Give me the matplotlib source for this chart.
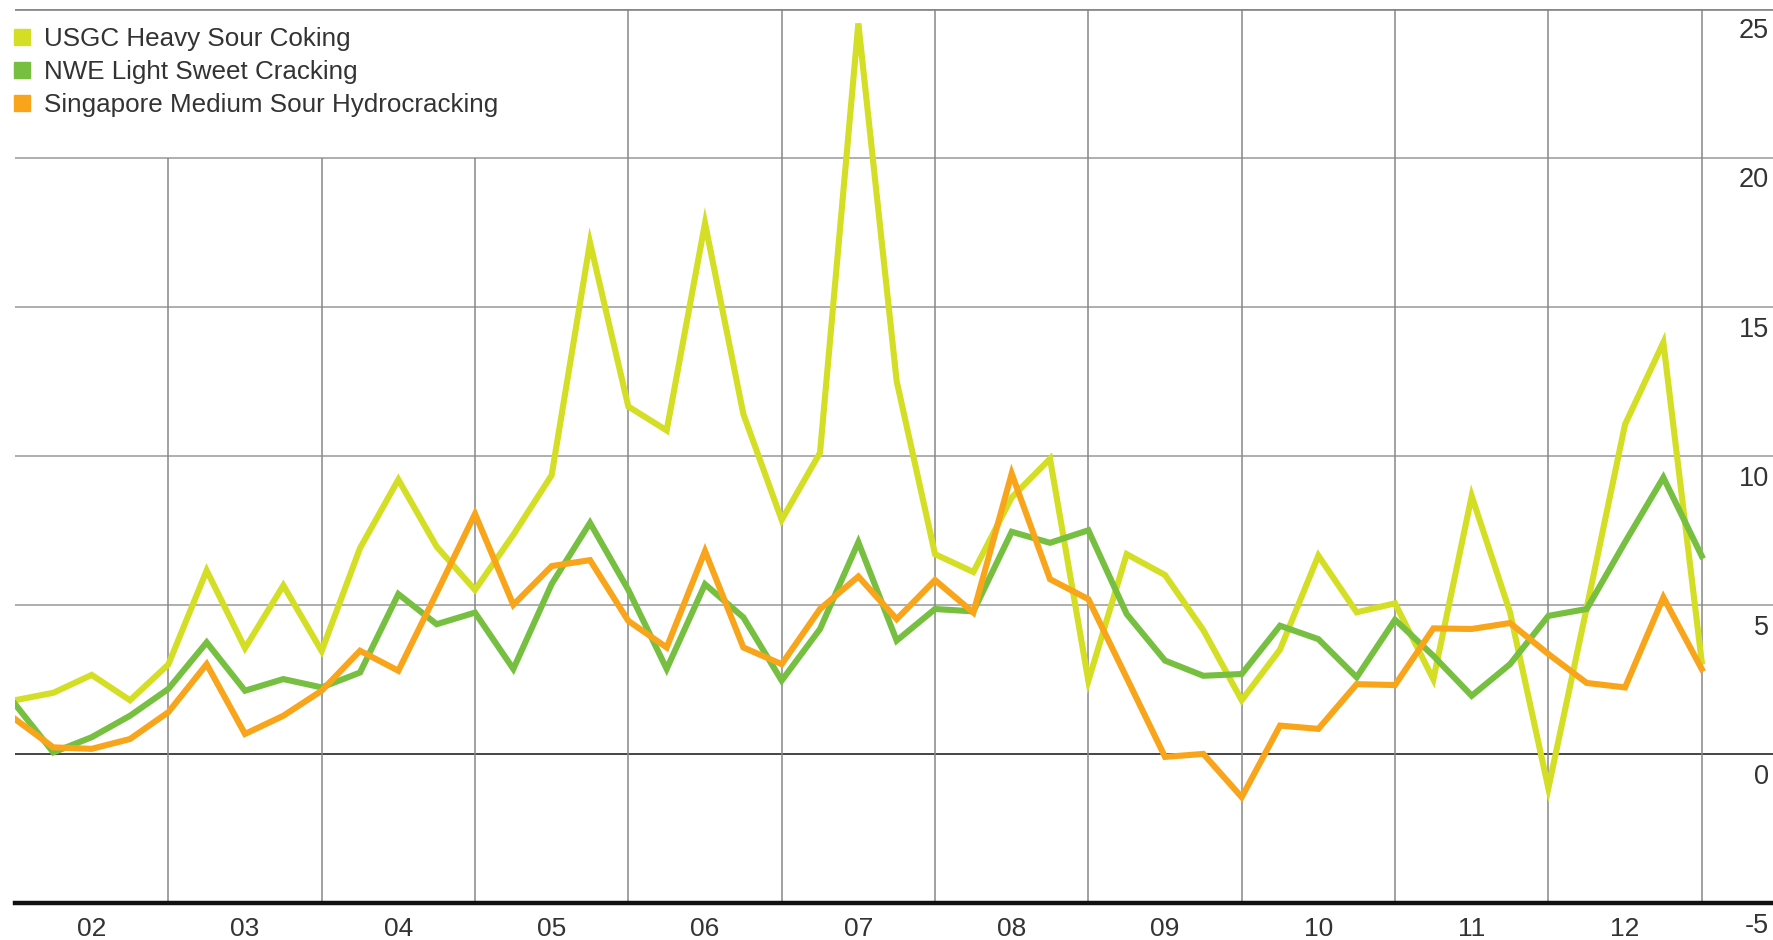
import numpy as np
import matplotlib.pyplot as plt
from matplotlib.lines import Line2D

# quarterly margins, Q1 2002 .. Q1 2013
usgc = [1.8, 2.05, 2.65, 1.8, 3.0, 6.15, 3.55, 5.65, 3.45, 6.9, 9.2, 6.95,
        5.5, 7.35, 9.35, 17.15, 11.65, 10.85, 17.8, 11.4, 7.85, 10.1, 24.5, 12.5,
        6.7, 6.1, 8.6, 9.9, 2.45, 6.7, 6.0, 4.15, 1.8, 3.5, 6.65, 4.75,
        5.05, 2.5, 8.65, 4.75, -1.15, 4.9, 11.05, 13.8, 3.1]
nwe = [1.67, 0.05, 0.56, 1.28, 2.18, 3.74, 2.12, 2.51, 2.23, 2.73, 5.36, 4.35,
       4.74, 2.85, 5.7, 7.75, 5.5, 2.85, 5.69, 4.58, 2.46, 4.19, 7.1, 3.8,
       4.86, 4.78, 7.45, 7.08, 7.5, 4.69, 3.13, 2.62, 2.68, 4.3, 3.85, 2.57,
       4.5, 3.29, 1.95, 3.01, 4.63, 4.86, 7.1, 9.27, 6.64]
singapore = [1.17, 0.22, 0.17, 0.5, 1.4, 3.01, 0.67, 1.28, 2.12, 3.46, 2.79, 5.4,
             8.05, 5.0, 6.3, 6.5, 4.46, 3.57, 6.8, 3.57, 3.01, 4.86, 5.95, 4.52,
             5.83, 4.74, 9.4, 5.86, 5.19, 2.55, -0.1, 0.0, -1.45, 0.95, 0.84, 2.34,
             2.31, 4.21, 4.19, 4.39, 3.35, 2.38, 2.23, 5.25, 2.85]
series_names = ["USGC Heavy Sour Coking", "NWE Light Sweet Cracking",
                "Singapore Medium Sour Hydrocracking"]
year_labels = ["02", "03", "04", "05", "06", "07", "08", "09", "10", "11", "12"]
y_ticks = [25, 20, 15, 10, 5, 0, -5]

colors = ["#d3de25", "#77bf41", "#f9a51b"]
text_color = "#333333"
plt.rcParams["font.family"] = ["Liberation Sans", "DejaVu Sans"]

x = np.arange(len(usgc))

fig = plt.figure(figsize=(17.73, 9.40), dpi=100)
ax = fig.add_axes([15 / 1773, 37 / 940, 1 - 15 / 1773, (903 - 8.5) / 940])
ax.set_xlim(0, 45.86)
ax.set_ylim(-5, 25)
ax.axis("off")

# horizontal grid
for v in [5, 10, 15, 20]:
    ax.axhline(v, color="#a8a8a8", lw=1.3, zorder=1)
ax.axhline(25, color="#8a8a8a", lw=2.0, zorder=1)
ax.axhline(0, color="#444444", lw=1.4, zorder=1)
ax.axhline(-5, color="#111111", lw=3.2, zorder=4, clip_on=False)

# vertical grid at year boundaries (legend area left clear)
for k in range(11):
    xv = 4 + 4 * k
    top = 20 if xv < 14 else 25
    ax.vlines(xv, -5, top, color="#878787", lw=1.1, zorder=1)

for vals, c, name in zip([usgc, nwe, singapore], colors, series_names):
    ax.plot(x, vals, color=c, lw=4.4, solid_joinstyle="miter", label=name, zorder=3)

# year labels
for k, lab in enumerate(year_labels):
    ax.annotate(lab, xy=(2 + 4 * k, -5), xytext=(0, -19), textcoords="offset points",
                ha="center", va="center", fontsize=19, color=text_color,
                annotation_clip=False)

# value labels on the right, below each gridline
for v in y_ticks:
    ax.annotate(str(v), xy=(1, v), xycoords=("axes fraction", "data"),
                xytext=(-3, -16.5), textcoords="offset points",
                ha="right", va="center", fontsize=19.5, color=text_color,
                annotation_clip=False)

handles = [Line2D([], [], marker="s", ls="none", color=c, markersize=11.5)
           for c in colors]
leg = ax.legend(handles, series_names, loc="upper left", bbox_to_anchor=(-0.002, 0.979),
                frameon=False, fontsize=18.7, handlelength=0.8, handletextpad=0.45,
                labelspacing=0.35, borderaxespad=0, borderpad=0)
for t in leg.get_texts():
    t.set_color(text_color)

fig.savefig("out.png", dpi=100)
